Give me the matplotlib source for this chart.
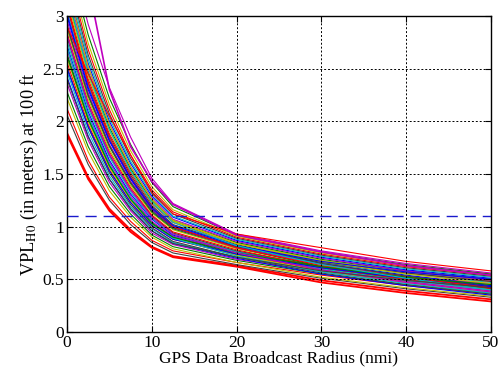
import matplotlib
matplotlib.use('Agg')
import matplotlib.pyplot as plt
import numpy as np

plt.rcParams['font.family'] = ['Liberation Serif', 'DejaVu Serif']
plt.rcParams['mathtext.fontset'] = 'stix'

# broadcast radius samples (nmi)
radius = [0, 2.5, 5, 7.5, 10, 12.5, 20, 30, 40, 50]

# VPL_H0 curves (m), one row per curve
vpl_curves = [
    [1.87, 1.45, 1.15, 0.95, 0.80, 0.71, 0.62, 0.47, 0.37, 0.29],
    [1.89, 1.47, 1.17, 0.97, 0.81, 0.72, 0.63, 0.49, 0.39, 0.31],
    [2.06, 1.59, 1.25, 1.02, 0.85, 0.75, 0.64, 0.51, 0.41, 0.33],
    [2.12, 1.63, 1.28, 1.05, 0.87, 0.77, 0.66, 0.54, 0.44, 0.36],
    [2.22, 1.71, 1.34, 1.09, 0.90, 0.79, 0.66, 0.52, 0.42, 0.34],
    [2.28, 1.76, 1.38, 1.12, 0.92, 0.81, 0.68, 0.55, 0.45, 0.37],
    [2.36, 1.82, 1.42, 1.15, 0.94, 0.83, 0.69, 0.57, 0.47, 0.39],
    [2.42, 1.86, 1.45, 1.17, 0.96, 0.84, 0.70, 0.55, 0.44, 0.35],
    [2.47, 1.90, 1.48, 1.19, 0.98, 0.85, 0.71, 0.58, 0.48, 0.40],
    [2.52, 1.94, 1.51, 1.21, 0.99, 0.86, 0.71, 0.56, 0.45, 0.36],
    [2.56, 1.97, 1.54, 1.23, 1.01, 0.88, 0.73, 0.59, 0.49, 0.41],
    [2.60, 2.00, 1.56, 1.25, 1.02, 0.89, 0.73, 0.58, 0.47, 0.38],
    [2.64, 2.03, 1.58, 1.27, 1.04, 0.90, 0.74, 0.60, 0.50, 0.42],
    [2.68, 2.06, 1.61, 1.29, 1.05, 0.91, 0.75, 0.59, 0.48, 0.39],
    [2.72, 2.09, 1.63, 1.31, 1.07, 0.92, 0.76, 0.61, 0.51, 0.43],
    [2.76, 2.12, 1.66, 1.33, 1.08, 0.93, 0.76, 0.60, 0.49, 0.40],
    [2.80, 2.15, 1.68, 1.35, 1.10, 0.94, 0.77, 0.62, 0.52, 0.44],
    [2.84, 2.18, 1.71, 1.37, 1.11, 0.95, 0.78, 0.61, 0.50, 0.41],
    [2.88, 2.21, 1.73, 1.39, 1.13, 0.97, 0.79, 0.63, 0.53, 0.45],
    [2.92, 2.24, 1.76, 1.41, 1.14, 0.98, 0.80, 0.62, 0.51, 0.42],
    [2.96, 2.27, 1.78, 1.43, 1.16, 0.99, 0.80, 0.64, 0.53, 0.46],
    [3.00, 2.30, 1.81, 1.45, 1.17, 1.00, 0.81, 0.65, 0.54, 0.44],
    [3.04, 2.34, 1.83, 1.47, 1.19, 1.01, 0.82, 0.66, 0.55, 0.47],
    [3.08, 2.37, 1.86, 1.49, 1.20, 1.02, 0.83, 0.65, 0.53, 0.43],
    [3.12, 2.40, 1.88, 1.51, 1.22, 1.04, 0.84, 0.67, 0.56, 0.48],
    [3.16, 2.43, 1.91, 1.53, 1.23, 1.05, 0.84, 0.68, 0.57, 0.49],
    [3.20, 2.47, 1.94, 1.55, 1.25, 1.06, 0.85, 0.69, 0.58, 0.50],
    [3.25, 2.51, 1.97, 1.57, 1.27, 1.07, 0.86, 0.70, 0.58, 0.49],
    [3.30, 2.55, 2.00, 1.60, 1.29, 1.09, 0.87, 0.71, 0.59, 0.51],
    [3.35, 2.59, 2.03, 1.62, 1.31, 1.10, 0.88, 0.72, 0.60, 0.52],
    [3.40, 2.63, 2.07, 1.65, 1.33, 1.12, 0.89, 0.73, 0.61, 0.53],
    [3.45, 2.68, 2.11, 1.68, 1.35, 1.14, 0.90, 0.74, 0.62, 0.54],
    [3.52, 2.74, 2.16, 1.72, 1.38, 1.16, 0.91, 0.75, 0.63, 0.55],
    [3.60, 2.82, 2.22, 1.78, 1.42, 1.19, 0.92, 0.76, 0.64, 0.55],
    [3.70, 2.92, 2.32, 1.85, 1.46, 1.22, 0.93, 0.77, 0.65, 0.56],
    [2.50, 1.95, 1.53, 1.23, 1.01, 0.88, 0.74, 0.61, 0.51, 0.43],
    [2.70, 2.05, 1.59, 1.27, 1.03, 0.89, 0.72, 0.57, 0.46, 0.37],
    [2.90, 2.25, 1.77, 1.42, 1.15, 0.99, 0.81, 0.66, 0.56, 0.48],
    [3.10, 2.36, 1.84, 1.47, 1.18, 1.00, 0.80, 0.63, 0.52, 0.42],
    [3.30, 2.52, 1.97, 1.57, 1.26, 1.06, 0.84, 0.67, 0.55, 0.46],
    [2.62, 2.02, 1.58, 1.26, 1.03, 0.90, 0.75, 0.62, 0.52, 0.45],
    [2.82, 2.16, 1.69, 1.35, 1.09, 0.93, 0.75, 0.59, 0.47, 0.38],
    [3.02, 2.32, 1.82, 1.46, 1.18, 1.01, 0.82, 0.67, 0.57, 0.50],
    [3.22, 2.46, 1.92, 1.53, 1.23, 1.04, 0.82, 0.64, 0.51, 0.40],
    [2.40, 1.85, 1.45, 1.17, 0.96, 0.84, 0.71, 0.58, 0.49, 0.42],
    [2.90, 2.45, 2.05, 1.68, 1.32, 1.12, 0.93, 0.80, 0.67, 0.58],
    [4.60, 3.30, 2.30, 1.76, 1.43, 1.21, 0.92, 0.76, 0.63, 0.54],
]

threshold = 1.1

matlab_colors = ['#0000ff', '#008000', '#ff0000', '#00bfbf', '#bf00bf', '#bfbf00', '#404040']

fig = plt.figure(figsize=(5.02, 3.75), dpi=100)
ax = fig.add_axes([0.1335, 0.1147, 0.8445, 0.8427])

for i, vals in enumerate(vpl_curves):
    if i < 2:
        c = '#ff0000'
        lw = 1.3
    elif i == len(vpl_curves) - 1:
        c = '#bf00bf'
        lw = 1.2
    elif i == len(vpl_curves) - 2:
        c = '#ff0000'
        lw = 0.8
    else:
        c = matlab_colors[(i * 3) % 7]
        lw = 0.8
    ax.plot(radius, vals, color=c, lw=lw)

ax.axhline(threshold, color='#1a1acc', lw=1.0, ls=(0, (8, 5)), zorder=5)

ax.set_xlim(0, 50)
ax.set_ylim(0, 3)
ax.set_xticks([0, 10, 20, 30, 40, 50])
ax.set_yticks([0, 0.5, 1, 1.5, 2, 2.5, 3])
ax.set_yticklabels(['0', '0.5', '1', '1.5', '2', '2.5', '3'])
ax.grid(True, color='k', ls=(0, (2, 2)), lw=0.7)
ax.set_axisbelow(False)
ax.tick_params(direction='in', top=True, right=True, labelsize=12.5, length=4, pad=2)
for s in ax.spines.values():
    s.set_linewidth(1.0)

ax.set_xlabel('GPS Data Broadcast Radius (nmi)', fontsize=12.5, labelpad=0)
ax.set_ylabel(r'VPL$_{\mathrm{H0}}$ (in meters) at 100 ft', fontsize=13.2, labelpad=2)

fig.savefig('out.png', dpi=100)
